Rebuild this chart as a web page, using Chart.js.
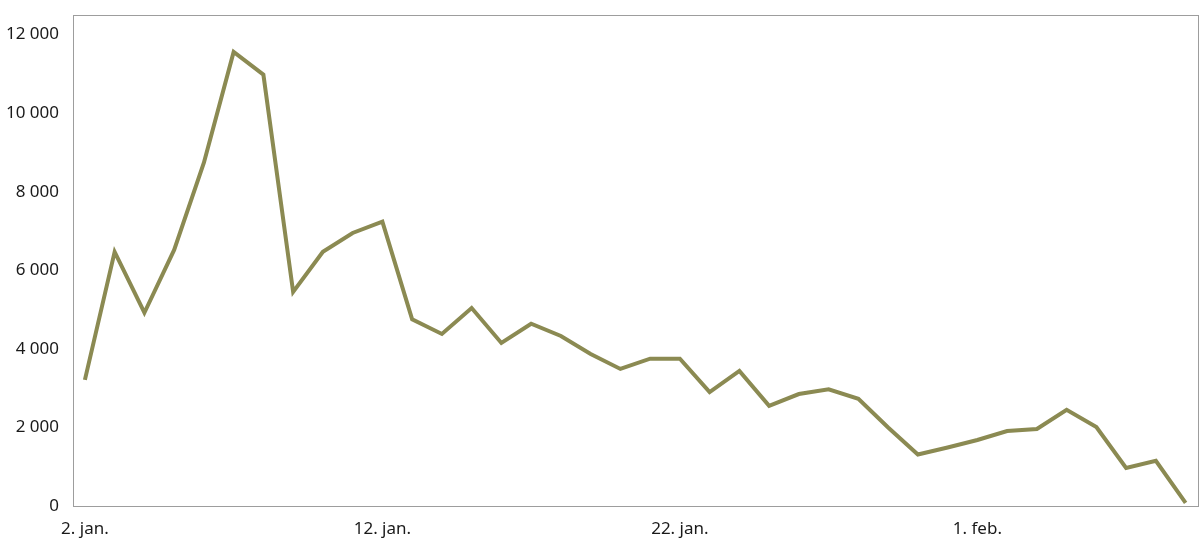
<!DOCTYPE html>
<html lang="no">

<head>
  <meta charset="UTF-8" />
  <title>Daglige tall</title>
  <script src="https://cdn.jsdelivr.net/npm/chart.js"></script>
  <style>
    body,
    html {
      margin: 0;
      background: #ffffff;
      overflow: hidden;
    }

    .ramme {
      width: 1200px;
      height: 557px;
    }
  </style>
</head>

<body>
  <div class="ramme">
    <canvas id="graf" width="1200" height="557"></canvas>
  </div>

  <script>
    // dager fra 2. jan. til 8. feb.
    const dager = [
      '2. jan.', '3. jan.', '4. jan.', '5. jan.', '6. jan.', '7. jan.', '8. jan.', '9. jan.',
      '10. jan.', '11. jan.', '12. jan.', '13. jan.', '14. jan.', '15. jan.', '16. jan.', '17. jan.',
      '18. jan.', '19. jan.', '20. jan.', '21. jan.', '22. jan.', '23. jan.', '24. jan.', '25. jan.',
      '26. jan.', '27. jan.', '28. jan.', '29. jan.', '30. jan.', '31. jan.', '1. feb.', '2. feb.',
      '3. feb.', '4. feb.', '5. feb.', '6. feb.', '7. feb.', '8. feb.'
    ];

    const verdier = [
      3210, 6470, 4920, 6520, 8740, 11560, 10980, 5450, 6470, 6950,
      7240, 4750, 4380, 5040, 4150, 4640, 4330, 3870, 3490, 3750,
      3750, 2900, 3440, 2550, 2850, 2970, 2730, 2000, 1310, 1490,
      1680, 1910, 1960, 2450, 2010, 970, 1150, 80
    ];

    const viseTicks = [0, 10, 20, 30];
    const yTicks = [0, 2000, 4000, 6000, 8000, 10000, 12000];

    const ramme = {
      id: 'ramme',
      afterDraw(chart) {
        const { ctx, chartArea: a } = chart;
        ctx.save();
        ctx.strokeStyle = '#9d9d9d';
        ctx.lineWidth = 1;
        ctx.strokeRect(a.left + 0.5, a.top + 0.5, a.right - a.left - 1, a.bottom - a.top);
        ctx.restore();
      }
    };

    const tall = v => String(v).replace(/\B(?=(\d{3})+(?!\d))/g, ' ');

    new Chart(document.getElementById('graf'), {
      type: 'line',
      data: {
        datasets: [{
          data: verdier.map((v, i) => ({ x: i, y: v })),
          borderColor: '#8b8a52',
          borderWidth: 4,
          pointRadius: 0,
          tension: 0,
          fill: false
        }]
      },
      options: {
        responsive: false,
        animation: false,
        layout: { padding: { top: 15, right: 1, left: 0, bottom: 0 } },
        plugins: {
          legend: { display: false },
          tooltip: { enabled: false }
        },
        scales: {
          x: {
            type: 'linear',
            min: -0.4,
            max: 37.45,
            afterBuildTicks: s => { s.ticks = viseTicks.map(v => ({ value: v })); },
            afterFit: s => { s.height = 51; },
            grid: { display: false, drawTicks: false },
            border: { display: false },
            ticks: {
              autoSkip: false,
              maxRotation: 0,
              padding: 13,
              color: '#1a1a1a',
              font: { family: 'Noto Sans', size: 17 },
              callback: v => dager[v]
            }
          },
          y: {
            min: 0,
            max: 12500,
            afterBuildTicks: s => { s.ticks = yTicks.map(v => ({ value: v })); },
            afterFit: s => { s.width = 73; s.paddingTop = 0; s.paddingBottom = 0; },
            grid: { display: false, drawTicks: false },
            border: { display: false },
            ticks: {
              padding: 14,
              color: '#1a1a1a',
              font: { family: 'Noto Sans', size: 17 },
              callback: v => tall(v)
            }
          }
        }
      },
      plugins: [ramme]
    });
  </script>
</body>

</html>
